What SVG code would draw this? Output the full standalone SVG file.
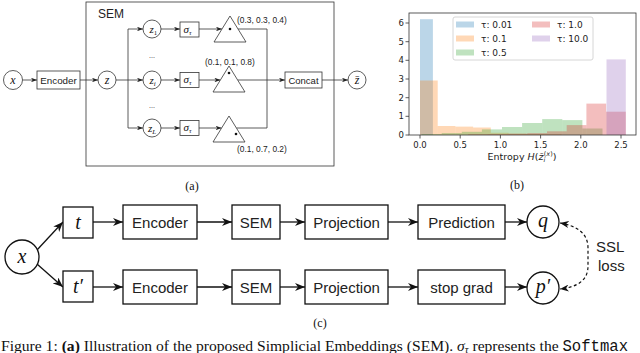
<svg xmlns="http://www.w3.org/2000/svg" width="640" height="353" viewBox="0 0 640 353">
<style>
.ln{fill:none;stroke:#333;stroke-width:0.8}
.bx{fill:#fff;stroke:#333;stroke-width:0.8}
.sf{font-family:"Liberation Sans",Arial,sans-serif;fill:#222}
.mi{font-family:"Liberation Serif","Times New Roman",serif;font-style:italic;fill:#111}
.rm{font-family:"Liberation Serif","Times New Roman",serif;fill:#111}
.bxc{fill:#fff;stroke:#111;stroke-width:1.3}
.lnc{fill:none;stroke:#111;stroke-width:1.3}
.dv{font-family:"DejaVu Sans",sans-serif;fill:#222}
.tk{stroke:#333;stroke-width:0.8}
.b1{fill:#1f77b4;fill-opacity:0.3}
.b2{fill:#ff7f0e;fill-opacity:0.3}
.b3{fill:#2ca02c;fill-opacity:0.3}
.b4{fill:#d62728;fill-opacity:0.3}
.b5{fill:#9467bd;fill-opacity:0.3}
</style>
<defs>
<marker id="ma" viewBox="0 0 8 6" markerWidth="6" markerHeight="4.5" refX="8" refY="3" orient="auto" markerUnits="userSpaceOnUse"><path d="M0,0 L8,3 L0,6 L2.2,3 z" fill="#222"/></marker>
<marker id="mc" viewBox="0 0 10 8" markerWidth="10" markerHeight="8" refX="10" refY="4" orient="auto" markerUnits="userSpaceOnUse"><path d="M0,0 L10,4 L0,8 L3,4 z" fill="#111"/></marker>
<marker id="md" viewBox="0 0 10 8" markerWidth="9" markerHeight="7" refX="10" refY="4" orient="auto-start-reverse" markerUnits="userSpaceOnUse"><path d="M0,0 L10,4 L0,8 L3,4 z" fill="#111"/></marker>
</defs>

<!-- (a) -->
<g id="a-sem-box">
<rect x="86" y="2" width="248" height="164" class="bx" fill="none"/>
<text x="98" y="18" class="sf" font-size="12">SEM</text>
</g>
<g id="a-connectors">
<line x1="22.5" y1="80" x2="37" y2="80" class="ln" marker-end="url(#ma)"/>
<line x1="80" y1="80" x2="98" y2="80" class="ln" marker-end="url(#ma)"/>
<line x1="116" y1="80" x2="143" y2="80" class="ln" marker-end="url(#ma)"/>
<line x1="128" y1="29" x2="128" y2="128" class="ln"/>
<line x1="128" y1="29" x2="143" y2="29" class="ln" marker-end="url(#ma)"/>
<line x1="128" y1="128" x2="143" y2="128" class="ln" marker-end="url(#ma)"/>
<line x1="161" y1="29" x2="180" y2="29" class="ln" marker-end="url(#ma)"/>
<line x1="161" y1="80" x2="180" y2="80" class="ln" marker-end="url(#ma)"/>
<line x1="161" y1="128" x2="180" y2="128" class="ln" marker-end="url(#ma)"/>
<line x1="199" y1="29" x2="222" y2="29" class="ln" marker-end="url(#ma)"/>
<line x1="199" y1="80" x2="220.4" y2="80" class="ln" marker-end="url(#ma)"/>
<line x1="199" y1="128" x2="221.6" y2="128" class="ln" marker-end="url(#ma)"/>
<polyline points="238,29 267,29 267,80" class="ln"/>
<polyline points="236.4,128 267,128 267,80" class="ln"/>
<line x1="237.6" y1="80" x2="285" y2="80" class="ln" marker-end="url(#ma)"/>
<line x1="322" y1="80" x2="348" y2="80" class="ln" marker-end="url(#ma)"/>
</g>
<g id="a-x"><circle cx="13" cy="80" r="9.5" class="bx"/><text x="13" y="83.5" class="mi" font-size="12" text-anchor="middle">x</text></g>
<g id="a-encoder"><rect x="37" y="71" width="43" height="18" class="bx"/><text x="58.5" y="83.5" class="sf" font-size="9.8" text-anchor="middle">Encoder</text></g>
<g id="a-z"><circle cx="107" cy="80" r="9" class="bx"/><text x="107" y="83.5" class="mi" font-size="12" text-anchor="middle">z</text></g>
<g id="a-z1"><circle cx="152" cy="29" r="9" class="bx"/><text x="149.5" y="32.5" class="mi" font-size="11">z<tspan font-style="normal" font-size="7" dy="2">1</tspan></text></g>
<g id="a-zi"><circle cx="152" cy="80" r="9" class="bx"/><text x="149.5" y="83.5" class="mi" font-size="11">z<tspan font-size="7" dy="2">i</tspan></text></g>
<g id="a-zL"><circle cx="152" cy="128" r="9" class="bx"/><text x="148" y="131.5" class="mi" font-size="11">z<tspan font-size="7" dy="2">L</tspan></text></g>
<text x="152" y="58" class="sf" font-size="7" text-anchor="middle" fill="#555">...</text>
<text x="152" y="108" class="sf" font-size="7" text-anchor="middle" fill="#555">...</text>
<g id="a-sig1"><rect x="180" y="22" width="19" height="15" class="bx"/><text x="183.5" y="32.5" class="mi" font-size="11">σ<tspan font-size="7" dy="2">τ</tspan></text></g>
<g id="a-sig2"><rect x="180" y="72.5" width="19" height="15" class="bx"/><text x="183.5" y="83" class="mi" font-size="11">σ<tspan font-size="7" dy="2">τ</tspan></text></g>
<g id="a-sig3"><rect x="180" y="120.5" width="19" height="15" class="bx"/><text x="183.5" y="131" class="mi" font-size="11">σ<tspan font-size="7" dy="2">τ</tspan></text></g>
<g id="a-tri1"><polygon points="230,16 214,42 246,42" class="bx"/><circle cx="230" cy="29" r="1.3" fill="#111"/><text x="237" y="23" class="sf" font-size="8.4">(0.3, 0.3, 0.4)</text></g>
<g id="a-tri2"><polygon points="229,66 213,92 245,92" class="bx"/><circle cx="229" cy="73" r="1.3" fill="#111"/><text x="205" y="65" class="sf" font-size="8.4">(0.1, 0.1, 0.8)</text></g>
<g id="a-tri3"><polygon points="229,116 213,142 245,142" class="bx"/><circle cx="236" cy="134" r="1.3" fill="#111"/><text x="237" y="152" class="sf" font-size="8.4">(0.1, 0.7, 0.2)</text></g>
<g id="a-concat"><rect x="285" y="72" width="37" height="16" class="bx"/><text x="303.5" y="83.5" class="sf" font-size="9.5" text-anchor="middle">Concat</text></g>
<g id="a-zbar"><circle cx="357" cy="80" r="9" class="bx"/><text x="357" y="83.5" class="mi" font-size="12" text-anchor="middle">z̄</text></g>
<text x="192" y="190" class="rm" font-size="12" text-anchor="middle">(a)</text>

<!-- (b) chart -->
<g id="b-chart">
<rect x="420" y="19.2" width="12.9" height="115.8" class="b1"/>
<rect x="420" y="80.5" width="17.7" height="54.5" class="b2"/>
<rect x="437.7" y="126" width="17.7" height="9" class="b2"/>
<rect x="455.4" y="126.6" width="17.7" height="8.4" class="b2"/>
<rect x="473.1" y="127.5" width="17.7" height="7.5" class="b2"/>
<rect x="490.8" y="132.8" width="17.7" height="2.2" class="b2"/>
<rect x="508.5" y="133.7" width="17.7" height="1.3" class="b2"/>
<rect x="526.2" y="134.1" width="17.7" height="0.9" class="b2"/>
<rect x="543.8" y="134.3" width="17.7" height="0.7" class="b2"/>
<rect x="421.6" y="134.1" width="20.1" height="0.9" class="b3"/>
<rect x="441.7" y="133.1" width="20.1" height="1.9" class="b3"/>
<rect x="461.8" y="131.8" width="20.1" height="3.2" class="b3"/>
<rect x="481.9" y="129.4" width="20.1" height="5.6" class="b3"/>
<rect x="502" y="127" width="20.1" height="8" class="b3"/>
<rect x="522.1" y="123" width="20.1" height="12" class="b3"/>
<rect x="542.2" y="119.1" width="20.1" height="15.9" class="b3"/>
<rect x="562.3" y="120.1" width="20.1" height="14.9" class="b3"/>
<rect x="582.4" y="128.5" width="20.1" height="6.5" class="b3"/>
<rect x="468.2" y="134.3" width="19.7" height="0.7" class="b4"/>
<rect x="487.9" y="134.1" width="19.7" height="0.9" class="b4"/>
<rect x="507.6" y="133.7" width="19.7" height="1.3" class="b4"/>
<rect x="527.3" y="133.1" width="19.7" height="1.9" class="b4"/>
<rect x="547" y="131.3" width="19.7" height="3.7" class="b4"/>
<rect x="566.7" y="125.1" width="19.7" height="9.9" class="b4"/>
<rect x="586.4" y="103.6" width="19.7" height="31.4" class="b4"/>
<rect x="606.1" y="111.7" width="19.7" height="23.3" class="b4"/>
<rect x="606.5" y="59.4" width="19.3" height="75.6" class="b5"/>
<rect x="409" y="13" width="227" height="122" fill="none" stroke="#333" stroke-width="0.8"/>
<g class="tk">
<line x1="405.5" y1="135" x2="409" y2="135"/><line x1="405.5" y1="116.3" x2="409" y2="116.3"/><line x1="405.5" y1="97.7" x2="409" y2="97.7"/><line x1="405.5" y1="79" x2="409" y2="79"/><line x1="405.5" y1="60.3" x2="409" y2="60.3"/><line x1="405.5" y1="41.7" x2="409" y2="41.7"/><line x1="405.5" y1="23" x2="409" y2="23"/>
<line x1="420" y1="135" x2="420" y2="138.5"/><line x1="460.2" y1="135" x2="460.2" y2="138.5"/><line x1="500.4" y1="135" x2="500.4" y2="138.5"/><line x1="540.6" y1="135" x2="540.6" y2="138.5"/><line x1="580.8" y1="135" x2="580.8" y2="138.5"/><line x1="621" y1="135" x2="621" y2="138.5"/>
</g>
<g class="dv" font-size="8.5" text-anchor="end">
<text x="404" y="138">0</text><text x="404" y="119.3">1</text><text x="404" y="100.7">2</text><text x="404" y="82">3</text><text x="404" y="63.3">4</text><text x="404" y="44.7">5</text><text x="404" y="26">6</text>
</g>
<g class="dv" font-size="8.5" text-anchor="middle">
<text x="420" y="147.5">0.0</text><text x="460.2" y="147.5">0.5</text><text x="500.4" y="147.5">1.0</text><text x="540.6" y="147.5">1.5</text><text x="580.8" y="147.5">2.0</text><text x="621" y="147.5">2.5</text>
</g>
<text x="522" y="160" class="dv" font-size="9.5" text-anchor="middle">Entropy <tspan font-style="italic">H</tspan>(<tspan font-style="italic">z̄</tspan><tspan font-style="italic" font-size="6.5" dy="2">i</tspan><tspan font-size="6.5" dx="-1.5" dy="-6">(<tspan font-style="italic">x</tspan>)</tspan><tspan dy="4">)</tspan></text>
<g id="b-legend">
<rect x="453" y="17" width="140" height="43" rx="2" fill="#fff" fill-opacity="0.8" stroke="#ccc" stroke-width="0.8"/>
<rect x="456" y="21.5" width="18" height="6" class="b1"/><text x="481" y="27.5" class="dv" font-size="9">τ: 0.01</text>
<rect x="456" y="35.5" width="18" height="6" class="b2"/><text x="481" y="41.5" class="dv" font-size="9">τ: 0.1</text>
<rect x="456" y="49.5" width="18" height="6" class="b3"/><text x="481" y="55.5" class="dv" font-size="9">τ: 0.5</text>
<rect x="532" y="21.5" width="18" height="6" class="b4"/><text x="557" y="27.5" class="dv" font-size="9">τ: 1.0</text>
<rect x="532" y="35.5" width="18" height="6" class="b5"/><text x="557" y="41.5" class="dv" font-size="9">τ: 10.0</text>
</g>
</g>
<text x="517" y="189" class="rm" font-size="12" text-anchor="middle">(b)</text>

<!-- (c) -->
<g id="c-connectors">
<line x1="37" y1="250" x2="63" y2="222" class="lnc" marker-end="url(#mc)"/>
<line x1="37" y1="264" x2="63" y2="287" class="lnc" marker-end="url(#mc)"/>
<line x1="93" y1="222" x2="123" y2="222" class="lnc" marker-end="url(#mc)"/>
<line x1="197" y1="222" x2="232" y2="222" class="lnc" marker-end="url(#mc)"/>
<line x1="280" y1="222" x2="305" y2="222" class="lnc" marker-end="url(#mc)"/>
<line x1="388" y1="222" x2="418" y2="222" class="lnc" marker-end="url(#mc)"/>
<line x1="505" y1="222" x2="527" y2="222" class="lnc" marker-end="url(#mc)"/>
<line x1="93" y1="287" x2="123" y2="287" class="lnc" marker-end="url(#mc)"/>
<line x1="197" y1="287" x2="232" y2="287" class="lnc" marker-end="url(#mc)"/>
<line x1="280" y1="287" x2="305" y2="287" class="lnc" marker-end="url(#mc)"/>
<line x1="388" y1="287" x2="418" y2="287" class="lnc" marker-end="url(#mc)"/>
<line x1="505" y1="287" x2="527" y2="287" class="lnc" marker-end="url(#mc)"/>
<path d="M560,223 C578,226 588,234 588,248 L588,266 C588,280 578,287 560,289" fill="none" stroke="#111" stroke-width="1.2" stroke-dasharray="3,2.5" marker-start="url(#md)" marker-end="url(#md)"/>
</g>
<g id="c-x"><circle cx="22" cy="257" r="17" class="bxc"/><text x="22" y="263" class="mi" font-size="20" text-anchor="middle">x</text></g>
<g id="c-t"><rect x="63" y="207" width="30" height="31" class="bxc"/><text x="78" y="229" class="mi" font-size="20" text-anchor="middle">t</text></g>
<g id="c-t2"><rect x="63" y="271" width="30" height="31" class="bxc"/><text x="78" y="293" class="mi" font-size="20" text-anchor="middle">t′</text></g>
<g id="c-enc1"><rect x="123" y="205" width="74" height="34" class="bxc"/><text x="160" y="227.5" class="sf" font-size="15" text-anchor="middle">Encoder</text></g>
<g id="c-sem1"><rect x="232" y="205" width="48" height="34" class="bxc"/><text x="256" y="227.5" class="sf" font-size="15" text-anchor="middle">SEM</text></g>
<g id="c-proj1"><rect x="305" y="205" width="83" height="34" class="bxc"/><text x="346.5" y="227.5" class="sf" font-size="15" text-anchor="middle">Projection</text></g>
<g id="c-pred"><rect x="418" y="205" width="87" height="34" class="bxc"/><text x="461.5" y="227.5" class="sf" font-size="15" text-anchor="middle">Prediction</text></g>
<g id="c-q"><circle cx="543" cy="222" r="16" class="bxc"/><text x="543" y="227" class="mi" font-size="20" text-anchor="middle">q</text></g>
<g id="c-enc2"><rect x="123" y="270" width="74" height="34" class="bxc"/><text x="160" y="292.5" class="sf" font-size="15" text-anchor="middle">Encoder</text></g>
<g id="c-sem2"><rect x="232" y="270" width="48" height="34" class="bxc"/><text x="256" y="292.5" class="sf" font-size="15" text-anchor="middle">SEM</text></g>
<g id="c-proj2"><rect x="305" y="270" width="83" height="34" class="bxc"/><text x="346.5" y="292.5" class="sf" font-size="15" text-anchor="middle">Projection</text></g>
<g id="c-stop"><rect x="418" y="270" width="87" height="34" class="bxc"/><text x="461.5" y="292.5" class="sf" font-size="15" text-anchor="middle">stop grad</text></g>
<g id="c-p"><circle cx="543" cy="288" r="16" class="bxc"/><text x="543" y="293" class="mi" font-size="20" text-anchor="middle">p′</text></g>
<text x="596" y="252" class="sf" font-size="15">SSL</text>
<text x="598" y="271" class="sf" font-size="15">loss</text>
<text x="320" y="327" class="rm" font-size="12" text-anchor="middle">(c)</text>

<text x="1" y="351" class="rm" font-size="15.6">Figure 1: <tspan font-weight="bold">(a)</tspan> Illustration of the proposed Simplicial Embeddings (SEM). <tspan font-style="italic">σ</tspan><tspan font-style="italic" font-size="10.5" dy="2">τ</tspan><tspan dy="-2"> represents the </tspan><tspan font-family="Liberation Mono, monospace">Softmax</tspan></text>
</svg>
